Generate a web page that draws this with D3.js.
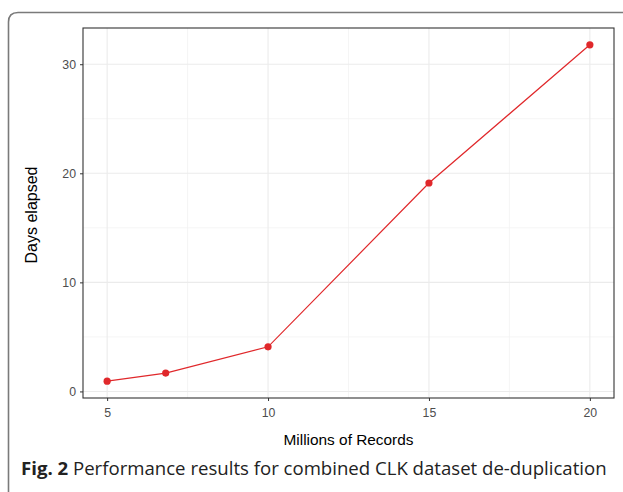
<!DOCTYPE html>
<html>
<head>
<meta charset="utf-8">
<script src="https://cdn.jsdelivr.net/npm/d3@7"></script>
<style>
  body { margin: 0; background: #fff; }
  svg { display: block; }
</style>
</head>
<body>
<div id="chart"></div>
<script>
    // chart data
    var records = [5, 6.82, 10, 15, 20];
    var days = [0.94, 1.68, 4.09, 19.11, 31.78];
    var xTicks = [5, 10, 15, 20];
    var yTicks = [0, 10, 20, 30];
    var xMinor = [7.5, 12.5, 17.5];
    var yMinor = [5, 15, 25];

    var width = 623,
        height = 492,
        panel = { left: 83, right: 614, top: 28, bottom: 398 },
        lineColor = "#e0282b",
        sansFont = "'Liberation Sans', Arial, sans-serif";

    var svg = d3.select("#chart").append("svg")
        .attr("width", width)
        .attr("height", height);

    // outer figure frame (only top-left corner is visible)
    svg.append("path")
        .attr("d", "M8.5," + (height + 5) + " L8.5,22 Q8.5,12.5 18,12.5 L" + (width + 5) + ",12.5")
        .attr("fill", "none")
        .attr("stroke", "#7a7a7a")
        .attr("stroke-width", 1.6);

    // ggplot-like 5% expansion
    var xExt = d3.extent(records), yExt = d3.extent(days);
    var xPad = (xExt[1] - xExt[0]) * 0.05, yPad = (yExt[1] - yExt[0]) * 0.05;

    var x = d3.scaleLinear()
        .domain([xExt[0] - xPad, xExt[1] + xPad])
        .range([panel.left, panel.right]);
    var y = d3.scaleLinear()
        .domain([yExt[0] - yPad, yExt[1] + yPad])
        .range([panel.bottom, panel.top]);

    var grid = svg.append("g").attr("class", "grid");

    // minor grid
    grid.selectAll(".vminor").data(xMinor).enter().append("line")
        .attr("x1", function (d) { return x(d); })
        .attr("x2", function (d) { return x(d); })
        .attr("y1", panel.top).attr("y2", panel.bottom)
        .attr("stroke", "#f2f2f2").attr("stroke-width", 0.8);
    grid.selectAll(".hminor").data(yMinor).enter().append("line")
        .attr("y1", function (d) { return y(d); })
        .attr("y2", function (d) { return y(d); })
        .attr("x1", panel.left).attr("x2", panel.right)
        .attr("stroke", "#f2f2f2").attr("stroke-width", 0.8);

    // major grid
    grid.selectAll(".vmajor").data(xTicks).enter().append("line")
        .attr("x1", function (d) { return x(d); })
        .attr("x2", function (d) { return x(d); })
        .attr("y1", panel.top).attr("y2", panel.bottom)
        .attr("stroke", "#ebebeb").attr("stroke-width", 1.1);
    grid.selectAll(".hmajor").data(yTicks).enter().append("line")
        .attr("y1", function (d) { return y(d); })
        .attr("y2", function (d) { return y(d); })
        .attr("x1", panel.left).attr("x2", panel.right)
        .attr("stroke", "#ebebeb").attr("stroke-width", 1.1);

    // data line and points
    var pts = records.map(function (r, i) { return [r, days[i]]; });
    var line = d3.line()
        .x(function (d) { return x(d[0]); })
        .y(function (d) { return y(d[1]); });

    svg.append("path")
        .datum(pts)
        .attr("d", line)
        .attr("fill", "none")
        .attr("stroke", lineColor)
        .attr("stroke-width", 1.2);

    svg.selectAll(".pt").data(pts).enter().append("circle")
        .attr("cx", function (d) { return x(d[0]); })
        .attr("cy", function (d) { return y(d[1]); })
        .attr("r", 3.6)
        .attr("fill", lineColor);

    // panel border
    svg.append("rect")
        .attr("x", panel.left).attr("y", panel.top)
        .attr("width", panel.right - panel.left)
        .attr("height", panel.bottom - panel.top)
        .attr("fill", "none")
        .attr("stroke", "#333333")
        .attr("stroke-width", 1.1);

    // axes
    var xAxis = svg.append("g")
        .attr("transform", "translate(0," + panel.bottom + ")")
        .call(d3.axisBottom(x).tickValues(xTicks).tickSize(3).tickPadding(7));
    var yAxis = svg.append("g")
        .attr("transform", "translate(" + panel.left + ",0)")
        .call(d3.axisLeft(y).tickValues(yTicks).tickSize(3).tickPadding(4));

    [xAxis, yAxis].forEach(function (a) {
        a.select(".domain").remove();
        a.selectAll(".tick line").attr("stroke", "#333333").attr("stroke-width", 1);
        a.selectAll(".tick text")
            .attr("fill", "#4d4d4d")
            .style("font-family", sansFont)
            .style("font-size", "12.3px");
    });

    // axis titles
    svg.append("text")
        .attr("x", (panel.left + panel.right) / 2)
        .attr("y", 445)
        .attr("text-anchor", "middle")
        .style("font-family", sansFont)
        .style("font-size", "15.4px")
        .attr("fill", "#000")
        .text("Millions of Records");

    svg.append("text")
        .attr("transform", "translate(37," + ((panel.top + panel.bottom) / 2 + 2) + ") rotate(-90)")
        .attr("text-anchor", "middle")
        .style("font-family", sansFont)
        .style("font-size", "16px")
        .attr("fill", "#000")
        .text("Days elapsed");

    // figure caption
    var cap = svg.append("text")
        .attr("x", 21)
        .attr("y", 475)
        .style("font-family", "'Open Sans', sans-serif")
        .style("font-size", "18.6px")
        .attr("fill", "#222");
    cap.append("tspan").style("font-weight", "bold").text("Fig. 2");
    cap.append("tspan").text(" Performance results for combined CLK dataset de-duplication");
</script>
</body>
</html>
